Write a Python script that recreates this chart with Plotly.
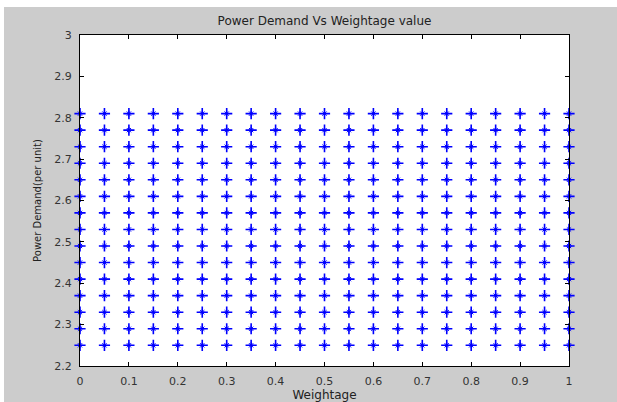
import plotly.graph_objects as go

# Data
weightage = [0.0, 0.05, 0.1, 0.15, 0.2, 0.25, 0.3, 0.35, 0.4, 0.45, 0.5,
             0.55, 0.6, 0.65, 0.7, 0.75, 0.8, 0.85, 0.9, 0.95, 1.0]
power_demand = [2.25, 2.29, 2.33, 2.37, 2.41, 2.45, 2.49, 2.53, 2.57,
                2.61, 2.65, 2.69, 2.73, 2.77, 2.81]
x_ticks = [0, 0.1, 0.2, 0.3, 0.4, 0.5, 0.6, 0.7, 0.8, 0.9, 1]
y_ticks = [2.2, 2.3, 2.4, 2.5, 2.6, 2.7, 2.8, 2.9, 3]

xs, ys = [], []
for w in weightage:
    for p in power_demand:
        xs.append(w)
        ys.append(p)

fig = go.Figure()
fig.add_trace(go.Scatter(x=xs, y=ys, mode="markers", cliponaxis=False,
                         marker=dict(symbol="cross-thin-open", size=8, color="#0000ff",
                                     line=dict(color="#2a2aff", width=1.6)),
                         hoverinfo="skip", showlegend=False))
fig.add_trace(go.Scatter(x=xs, y=ys, mode="markers", cliponaxis=False,
                         marker=dict(symbol="asterisk-open", size=5, color="#0000ff",
                                     line=dict(color="#0000ff", width=1)),
                         hoverinfo="skip", showlegend=False))

FAM = "DejaVu Sans, Liberation Sans, Arial, sans-serif"
tickfont = dict(family=FAM, size=11, color="#333333")
axis_common = dict(showgrid=False, zeroline=False, showline=True, linecolor="black",
                   linewidth=1, mirror="allticks", ticks="inside", ticklen=4,
                   tickcolor="black", tickfont=tickfont, automargin=False)

fig.update_layout(
    width=617, height=402,
    margin=dict(l=80, r=48, t=35, b=36),
    paper_bgcolor="white", plot_bgcolor="white",
    font=dict(family=FAM, size=11, color="#222222"),
    title=dict(text="Power Demand Vs Weightage value", x=(80 + 489 / 2) / 617,
               xanchor="center", y=1 - 21 / 402, yanchor="middle", automargin=False,
               font=dict(size=12, color="#222222", family=FAM)),
    xaxis=dict(range=[0, 1], tickvals=x_ticks, ticktext=[str(t) for t in x_ticks],
               ticklabelstandoff=5,
               title=dict(text="Weightage", standoff=6,
                          font=dict(size=12, family=FAM, color="#222222")),
               **axis_common),
    yaxis=dict(range=[2.2, 3], tickvals=y_ticks, ticktext=[str(t) for t in y_ticks],
               ticklabelstandoff=5,
               title=dict(text="Power Demand(per unit)", standoff=10,
                          font=dict(size=10, family=FAM, color="#222222")),
               **axis_common),
    shapes=[
        dict(type="rect", xref="paper", yref="paper", layer="below",
             x0=-76 / 489, x1=1 + 48 / 489, y0=-36 / 331, y1=1 + 28 / 331,
             fillcolor="#cccccc", line=dict(width=0)),
        dict(type="rect", xref="paper", yref="paper", layer="below",
             x0=0, x1=1, y0=0, y1=1, fillcolor="white", line=dict(width=0)),
    ],
)

fig.write_html("out.html")
